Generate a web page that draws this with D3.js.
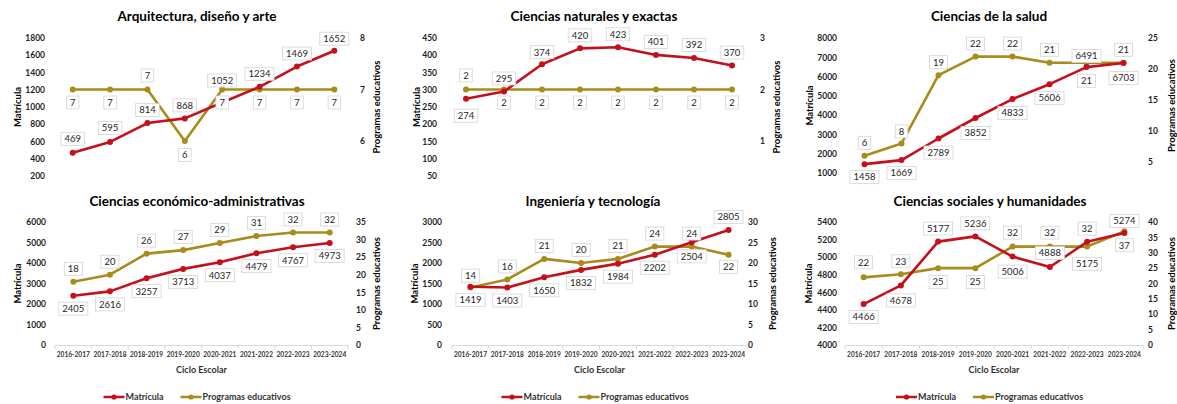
<!DOCTYPE html>
<html>
<head>
<meta charset="utf-8">
<script src="https://cdn.jsdelivr.net/npm/d3@7"></script>
<style>
  body { margin: 0; background: #fff; }
  svg { display: block; font-family: Lato, 'Open Sans', sans-serif; }
</style>
</head>
<body>
<svg id="chart" width="1177" height="404"></svg>
<script>
const ciclos = ['2016-2017', '2017-2018', '2018-2019', '2019-2020', '2020-2021', '2021-2022', '2022-2023', '2023-2024'];

const titulos = [
  'Arquitectura, diseño y arte',
  'Ciencias naturales y exactas',
  'Ciencias de la salud',
  'Ciencias económico-administrativas',
  'Ingeniería y tecnología',
  'Ciencias sociales y humanidades',
];

const matArq = [469, 595, 814, 868, 1052, 1234, 1469, 1652];
const progArq = [7, 7, 7, 6, 7, 7, 7, 7];
const matNat = [274, 295, 374, 420, 423, 401, 392, 370];
const progNat = [2, 2, 2, 2, 2, 2, 2, 2];
const matSalud = [1458, 1669, 2789, 3852, 4833, 5606, 6491, 6703];
const progSalud = [6, 8, 19, 22, 22, 21, 21, 21];
const matEco = [2405, 2616, 3257, 3713, 4037, 4479, 4767, 4973];
const progEco = [18, 20, 26, 27, 29, 31, 32, 32];
const matIng = [1419, 1403, 1650, 1832, 1984, 2202, 2504, 2805];
const progIng = [14, 16, 21, 20, 21, 24, 24, 22];
const matSoc = [4466, 4678, 5177, 5236, 5006, 4888, 5175, 5274];
const progSoc = [22, 23, 25, 25, 32, 32, 32, 37];

const ticksArq = [200, 400, 600, 800, 1000, 1200, 1400, 1600, 1800];
const ticksArqR = [6, 7, 8];
const ticksNat = [50, 100, 150, 200, 250, 300, 350, 400, 450];
const ticksNatR = [1, 2, 3];
const ticksSalud = [1000, 2000, 3000, 4000, 5000, 6000, 7000, 8000];
const ticksSaludR = [5, 10, 15, 20, 25];
const ticksEco = [0, 1000, 2000, 3000, 4000, 5000, 6000];
const ticksEcoR = [0, 5, 10, 15, 20, 25, 30, 35];
const ticksIng = [0, 500, 1000, 1500, 2000, 2500, 3000];
const ticksIngR = [0, 5, 10, 15, 20, 25, 30];
const ticksSoc = [4000, 4200, 4400, 4600, 4800, 5000, 5200, 5400];
const ticksSocR = [0, 5, 10, 15, 20, 25, 30, 35, 40];

const RED = '#c50f1a';
const GOLD = '#a98b1b';

// layout: plot x range, y ranges of the tick extremes, label placement (dy of each data label)
const panels = [
  { title: titulos[0], mat: matArq, prog: progArq, tl: ticksArq, tr: ticksArqR,
    xr: [54, 353], yl: [176, 38], yr: [141, 38], titleX: 197, titleY: 21,
    leftT: 18, leftL: 45, rightL: 360, rightT: 377, axis: false,
    dm: [-14, -14, -13, -13, -22, -13, -13, -12], dp: [13, 13, -14, 14, 13, 13, 13, 13] },
  { title: titulos[1], mat: matNat, prog: progNat, tl: ticksNat, tr: ticksNatR,
    xr: [447, 751], yl: [176, 38], yr: [141, 38], titleX: 594, titleY: 21,
    leftT: 417, leftL: 437, rightL: 760, rightT: 777, axis: false,
    dm: [17, -13, -12, -13, -13, -13, -13, -13], dp: [-14, 13, 13, 13, 13, 13, 13, 13] },
  { title: titulos[2], mat: matSalud, prog: progSalud, tl: ticksSalud, tr: ticksSaludR,
    xr: [846, 1142], yl: [173, 38], yr: [162, 38], titleX: 989, titleY: 21,
    leftT: 810, leftL: 837, rightL: 1148, rightT: 1172, axis: false,
    dm: [13, 13, 14, 15, 14, 14, -11, 15], dp: [-13, -12, -13, -13, -13, -13, 18, -13] },
  { title: titulos[3], mat: matEco, prog: progEco, tl: ticksEco, tr: ticksEcoR,
    xr: [55, 348], yl: [345, 222], yr: [345, 222], titleX: 197, titleY: 206,
    leftT: 18, leftL: 46, rightL: 356, rightT: 377, axis: true,
    dm: [13, 13, 13, 13, 13, 13, 13, 13], dp: [-13, -13, -13, -13, -13, -13, -13, -13] },
  { title: titulos[4], mat: matIng, prog: progIng, tl: ticksIng, tr: ticksIngR,
    xr: [452, 747], yl: [345, 222], yr: [345, 222], titleX: 593, titleY: 206,
    leftT: 415, leftL: 442, rightL: 748, rightT: 773, axis: true,
    dm: [13, 13, 13, 13, 13, 13, 14, -13], dp: [-12, -13, -13, -13, -13, -13, -13, 12] },
  { title: titulos[5], mat: matSoc, prog: progSoc, tl: ticksSoc, tr: ticksSocR,
    xr: [845, 1143], yl: [345, 222], yr: [345, 222], titleX: 990, titleY: 206,
    leftT: 809, leftL: 837, rightL: 1148, rightT: 1172, axis: true,
    dm: [13, 15, -13, -13, 15, -14, 22, -12], dp: [-15, -13, 14, 14, -14, -14, -18, 14] },
];

const svg = d3.select('#chart');

panels.forEach((p) => {
  const g = svg.append('g');
  const x = d3.scaleBand().domain(ciclos).range(p.xr);
  const cx = (d) => x(d) + x.bandwidth() / 2;
  const yL = d3.scaleLinear().domain([p.tl[0], p.tl[p.tl.length - 1]]).range(p.yl);
  const yR = d3.scaleLinear().domain([p.tr[0], p.tr[p.tr.length - 1]]).range(p.yr);
  const midY = (p.yl[0] + p.yl[1]) / 2;
  const midX = (p.xr[0] + p.xr[1]) / 2;

  g.append('text')
    .attr('x', p.titleX)
    .attr('y', p.titleY)
    .attr('text-anchor', 'middle')
    .attr('font-size', 13.5)
    .attr('font-weight', 'bold')
    .attr('fill', '#000')
    .text(p.title);

  const left = g.append('g')
    .attr('transform', `translate(${p.leftL},0)`)
    .call(d3.axisLeft(yL).tickValues(p.tl).tickSize(0).tickPadding(0).tickFormat(d3.format('d')));
  left.select('.domain').remove();
  left.selectAll('text').attr('font-size', 8.5).attr('font-weight', 'bold').attr('fill', '#1e1e1e')
    .attr('font-family', 'Lato, sans-serif');

  const right = g.append('g')
    .attr('transform', `translate(${p.rightL},0)`)
    .call(d3.axisRight(yR).tickValues(p.tr).tickSize(0).tickPadding(0).tickFormat(d3.format('d')));
  right.select('.domain').remove();
  right.selectAll('text').attr('font-size', 8.5).attr('font-weight', 'bold').attr('fill', '#1e1e1e')
    .attr('font-family', 'Lato, sans-serif');

  g.append('text')
    .attr('transform', `translate(${p.leftT},${midY}) rotate(-90)`)
    .attr('text-anchor', 'middle')
    .attr('dy', '0.35em')
    .attr('font-size', 9.5)
    .attr('font-weight', 'bold')
    .text('Matrícula');

  g.append('text')
    .attr('transform', `translate(${p.rightT},${midY}) rotate(-90)`)
    .attr('text-anchor', 'middle')
    .attr('dy', '0.35em')
    .attr('font-size', 9.5)
    .attr('font-weight', 'bold')
    .text('Programas educativos');

  if (p.axis) {
    const bottom = g.append('g')
      .attr('transform', `translate(0,${p.yl[0]})`)
      .call(d3.axisBottom(x).tickSize(0).tickPadding(7));
    bottom.select('.domain').attr('stroke', '#d9d9d9');
    bottom.selectAll('text').attr('font-size', 6.6).attr('font-weight', 'bold').attr('fill', '#333')
      .attr('font-family', 'Lato, sans-serif');
    bottom.selectAll('.bnd')
      .data(d3.range(ciclos.length + 1))
      .join('line')
      .attr('x1', (i) => p.xr[0] + i * x.step())
      .attr('x2', (i) => p.xr[0] + i * x.step())
      .attr('y1', 0)
      .attr('y2', 4)
      .attr('stroke', '#d9d9d9');

    g.append('text')
      .attr('x', midX)
      .attr('y', p.yl[0] + 28)
      .attr('text-anchor', 'middle')
      .attr('font-size', 9)
      .attr('font-weight', 'bold')
      .attr('fill', '#333')
      .text('Ciclo Escolar');

    const lg = g.append('g').attr('transform', `translate(${midX - 98},${p.yl[0] + 52})`);
    [[RED, 'Matrícula', 0], [GOLD, 'Programas educativos', 77]].forEach(([c, t, o]) => {
      lg.append('line').attr('x1', o).attr('x2', o + 21).attr('stroke', c).attr('stroke-width', 2.5);
      lg.append('circle').attr('cx', o + 10.5).attr('r', 2.6).attr('fill', c);
      lg.append('text').attr('x', o + 22).attr('dy', '0.35em').attr('font-size', 9)
        .attr('font-weight', 'bold').attr('fill', '#333').text(t);
    });
  }

  const series = [
    { vals: p.prog, y: yR, color: GOLD, dy: p.dp },
    { vals: p.mat, y: yL, color: RED, dy: p.dm },
  ];

  series.forEach((s) => {
    const pts = s.vals.map((v, i) => [cx(ciclos[i]), s.y(v)]);
    g.append('path')
      .attr('d', d3.line()(pts))
      .attr('fill', 'none')
      .attr('stroke', s.color)
      .attr('stroke-width', 2.6)
      .attr('stroke-linejoin', 'round');
    g.append('g')
      .selectAll('circle')
      .data(pts)
      .join('circle')
      .attr('cx', (d) => d[0])
      .attr('cy', (d) => d[1])
      .attr('r', 3)
      .attr('fill', s.color);
  });

  // data labels on top
  series.forEach((s) => {
    const lab = g.append('g')
      .selectAll('g')
      .data(s.vals)
      .join('g')
      .attr('transform', (v, i) => `translate(${cx(ciclos[i])},${s.y(v) + s.dy[i]})`);
    const txt = lab.append('text')
      .attr('text-anchor', 'middle')
      .attr('dy', '0.35em')
      .attr('font-size', 9.5)
      .attr('fill', '#262626')
      .text((v) => v);
    txt.each(function () {
      const w = this.getComputedTextLength();
      d3.select(this.parentNode).insert('rect', 'text')
        .attr('x', -w / 2 - 3.5)
        .attr('y', -6.5)
        .attr('width', w + 7)
        .attr('height', 13)
        .attr('fill', '#fff')
        .attr('stroke', '#d4d4d4')
        .attr('stroke-width', 0.8);
    });
  });
});
</script>
</body>
</html>
